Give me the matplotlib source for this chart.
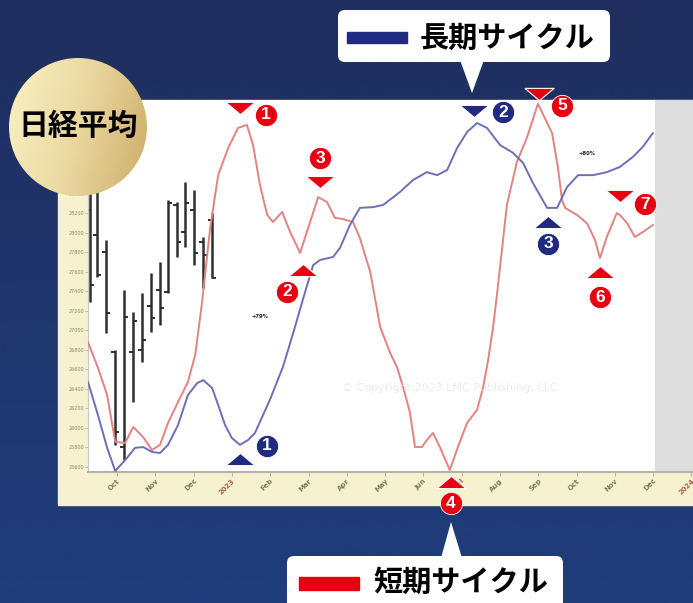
import numpy as np
import matplotlib.pyplot as plt
from matplotlib.colors import LinearSegmentedColormap
from matplotlib.patches import Circle, FancyBboxPatch, Polygon, Rectangle
from matplotlib.path import Path
from matplotlib.transforms import offset_copy

W, H = 693, 603
JP = ['Noto Sans CJK JP', 'DejaVu Sans']

# x軸: 月 (0 = 2022年10月)
month_ticks = list(range(16))
month_labels = ['Oct', 'Nov', 'Dec', '2023', 'Feb', 'Mar', 'Apr', 'May',
                'Jun', 'Jul', 'Aug', 'Sep', 'Oct', 'Nov', 'Dec', '2024']
price_ticks = list(range(25600, 29400, 200))

# 日経平均 週足
bar_x = [-0.70, -0.52, -0.29, -0.05, 0.18, 0.42, 0.65, 0.89, 1.12, 1.33, 1.57, 1.78, 2.01, 2.25, 2.48]
bar_open = [28230, 27980, 27800, 26780, 25800, 26780, 26800, 27250, 27410, 27390, 28280, 28010, 28230, 27900, 28130]
bar_high = [28590, 28440, 27920, 26800, 27410, 27190, 27380, 27590, 27700, 28330, 28310, 28520, 28440, 27960, 28200]
bar_low = [27290, 27550, 26970, 25830, 25670, 26270, 26680, 26980, 27050, 27380, 27750, 27850, 27670, 27430, 27540]
bar_close = [27460, 27570, 27180, 25960, 27140, 27100, 26900, 27130, 27230, 28300, 27900, 28300, 27790, 27770, 27540]

# 短期サイクル
short_x = [-0.76, -0.50, -0.26, -0.05, 0.21, 0.42, 0.68, 0.91, 1.12, 1.33, 1.59, 1.85, 2.04, 2.22, 2.43,
           2.64, 2.90, 3.16, 3.39, 3.55, 3.73, 3.92, 4.07, 4.31, 4.52, 4.78, 4.99, 5.25, 5.48, 5.69,
           5.90, 6.16, 6.34, 6.61, 6.87, 7.13, 7.31, 7.47, 7.65, 7.78, 7.96, 8.09, 8.25, 8.43, 8.69,
           8.90, 9.14, 9.40, 9.56, 9.69, 9.82, 9.92, 10.18, 10.44, 10.70, 10.99, 11.36, 11.51, 11.62, 11.70,
           12.01, 12.27, 12.48, 12.61, 12.79, 13.05, 13.13, 13.32, 13.52, 13.73, 13.99]
short_v = [34.9, 28.0, 20.7, 8.1, 7.8, 12.1, 9.4, 5.9, 7.3, 13.2, 18.8, 24.2, 31.5, 45.7, 65.6,
           79.8, 87.1, 92.5, 93.3, 87.9, 77.2, 69.1, 67.2, 69.9, 64.5, 58.9, 65.6, 73.9, 72.6, 68.3,
           68.0, 67.2, 62.9, 53.8, 39.0, 32.0, 28.2, 22.8, 15.9, 6.7, 6.7, 8.6, 10.5, 6.7, 0.5,
           6.7, 13.2, 16.7, 22.8, 30.1, 39.0, 47.6, 71.8, 83.3, 89.8, 99.0, 91.1, 82.0, 73.1, 71.0,
           69.1, 66.9, 62.4, 57.5, 63.2, 69.6, 69.1, 66.9, 63.2, 64.5, 66.4]

# 長期サイクル
long_x = [-0.76, -0.50, -0.26, -0.05, 0.21, 0.47, 0.68, 0.91, 1.12, 1.33, 1.59, 1.85, 2.09, 2.25, 2.48,
          2.64, 2.82, 3.00, 3.21, 3.42, 3.60, 3.99, 4.33, 4.60, 4.91, 5.12, 5.30, 5.64, 5.82, 6.08,
          6.34, 6.68, 6.95, 7.39, 7.73, 8.09, 8.36, 8.62, 8.88, 9.14, 9.40, 9.66, 10.00, 10.34, 10.60,
          10.86, 11.23, 11.49, 11.75, 12.04, 12.43, 12.79, 13.13, 13.47, 13.73, 13.99]
long_v = [24.2, 15.3, 6.5, 0.3, 3.2, 6.5, 6.7, 5.4, 5.1, 7.3, 12.6, 20.7, 23.9, 24.7, 22.6,
          18.0, 12.6, 9.1, 7.3, 8.6, 10.5, 19.4, 28.2, 37.4, 48.4, 55.6, 57.0, 57.8, 60.2, 66.4,
          71.0, 71.2, 71.8, 75.3, 78.5, 80.6, 79.8, 81.2, 87.1, 91.4, 93.8, 92.5, 87.9, 85.8, 83.1,
          77.7, 71.0, 71.0, 76.6, 79.8, 79.8, 80.6, 82.0, 84.7, 87.4, 91.1]

# 転換点 (index, 番号, 向き)
short_turns = [(18, '1', 'v'), (25, '2', '^'), (27, '3', 'v'), (44, '4', '^'),
               (55, '5', 'v'), (63, '6', '^'), (65, '7', 'v')]
long_turns = [(18, '1', '^'), (40, '2', 'v'), (46, '3', '^')]
# 三角と丸の位置ずれ (px)
short_off = [((-7, 17), (19, 10)), ((3, -17), (-13, -39)), ((2, 15), (2, 39)), ((1, -12), (1, -33)),
             ((1, 10), (24, -2)), ((0, -14), (0, -39)), ((3, 17), (28, 9))]
long_off = [((0, -14), (27, -1)), ((-3, 12), (26, 11)), ((1, -14), (1, -36))]

RED = '#e60012'
NAVY = '#1f2a80'

fig = plt.figure(figsize=(W / 100, H / 100), dpi=100)

# 背景
bg = fig.add_axes([0, 0, 1, 1], zorder=0)
grad = np.linspace(0, 1, 256)[:, None]
bg.imshow(grad, cmap=LinearSegmentedColormap.from_list('n', ['#1f2e5e', '#1f3d7c']),
          extent=[0, W, H, 0], aspect='auto')
bg.add_patch(Rectangle((58, 100), W - 58, 405, color='#f6f2cf'))
bg.set_xlim(0, W)
bg.set_ylim(H, 0)
bg.axis('off')

# チャート
ax = fig.add_axes([88 / W, (H - 472) / H, (W - 88) / W, (472 - 100) / H], zorder=1)
ax.set_facecolor('white')
ax.set_xlim(-0.76, 15.04)
ax.set_ylim(25549, 29358)
ax.axvspan(14.05, 15.2, color='#dedede', lw=0, zorder=0)

ax.vlines(bar_x, bar_low, bar_high, color='#2e2e2e', lw=1.8)
ax.hlines(bar_open, np.array(bar_x) - 0.1, bar_x, color='#2e2e2e', lw=1.4)
ax.hlines(bar_close, bar_x, np.array(bar_x) + 0.1, color='#2e2e2e', lw=1.4)

ax.set_xticks(month_ticks)
ax.set_xticklabels(month_labels, rotation=45, ha='right', rotation_mode='anchor',
                   fontsize=5, fontweight='bold')
for lab in ax.get_xticklabels():
    lab.set_color('#b0604a' if lab.get_text() in ('2023', '2024') else '#7d7d55')
ax.set_yticks(price_ticks)
ax.set_yticklabels([str(p) for p in price_ticks], fontsize=3.5, color='#8c8a6a')
ax.tick_params(axis='x', length=3, width=0.6, color='#b0a898', pad=1)
ax.tick_params(axis='y', length=2, width=0.5, color='#b0a898', pad=1)
for s in ('top', 'right'):
    ax.spines[s].set_visible(False)
ax.spines['bottom'].set_color('#b8b0a8')
ax.spines['bottom'].set_linewidth(1.5)
ax.spines['left'].set_color('#c8c8c8')
ax.spines['left'].set_linewidth(0.8)

ax2 = ax.twinx()
ax2.set_zorder(2)
ax2.set_ylim(0, 100)
ax2.axis('off')
ax2.plot(short_x, short_v, color='#e38282', lw=1.4)
ax2.plot(long_x, long_v, color='#6e6eb6', lw=1.4)

ax2.text(3.73, 41.4, '+79%', fontsize=3.8, fontweight='bold', color='#222222', ha='center')
ax2.text(12.27, 85.2, '+80%', fontsize=3.8, fontweight='bold', color='#222222', ha='center')
ax2.text(8.69, 22.6, '\u00a9 Copyright 2023 LMC Publishing, LLC', fontsize=8, color='#ebebeb',
         ha='center', va='center')

down = Path([(-1, 0.42), (1, 0.42), (0, -0.42), (-1, 0.42)])
up = Path([(-1, -0.42), (1, -0.42), (0, 0.42), (-1, -0.42)])


def turn_marks(xs, vs, turns, offs, color):
    for (i, num, d), (toff, coff) in zip(turns, offs):
        tt = offset_copy(ax2.transData, fig, x=toff[0], y=toff[1], units='dots')
        ax2.plot(xs[i], vs[i], marker=down if d == 'v' else up, ms=21, color=color,
                 mec='white', mew=0.8, transform=tt, clip_on=False, zorder=5)
        ct = offset_copy(ax2.transData, fig, x=coff[0], y=coff[1], units='dots')
        ax2.plot(xs[i], vs[i], marker='o', ms=16, color=color, mec='white', mew=0.6,
                 transform=ct, clip_on=False, zorder=5)
        ax2.text(xs[i], vs[i], num, transform=ct, color='white', fontsize=12.5,
                 fontweight='bold', family='Liberation Sans', ha='center', va='center',
                 zorder=6, clip_on=False)


turn_marks(short_x, short_v, short_turns, short_off, RED)
turn_marks(long_x, long_v, long_turns, long_off, NAVY)

# 装飾
ov = fig.add_axes([0, 0, 1, 1], zorder=3)
ov.set_facecolor('none')
gx, gy = np.meshgrid(np.linspace(0, 1, 200), np.linspace(0, 1, 200))
gold = ov.imshow(gx * 0.8 + gy * 0.2,
                 cmap=LinearSegmentedColormap.from_list('g', ['#fbf2c6', '#ead89f', '#cdab68']),
                 extent=[8, 148, 197, 57], aspect='auto')
gold.set_clip_path(Circle((78, 127), 69, transform=ov.transData))
ov.text(78, 126, '日経平均', fontsize=21.5, fontweight='bold', family=JP, ha='center', va='center')

ov.add_patch(FancyBboxPatch((338, 10), 272, 52, boxstyle='round,pad=0,rounding_size=7',
                            fc='white', ec='none'))
ov.add_patch(Polygon([(460, 60), (484, 60), (472, 93)], closed=True, fc='white', ec='none'))
ov.add_patch(Rectangle((347, 32), 60, 11, color=NAVY))
ov.text(420, 38, '長期サイクル', fontsize=21, fontweight='bold', family=JP, ha='left', va='center')

ov.add_patch(FancyBboxPatch((287, 556), 276, 60, boxstyle='round,pad=0,rounding_size=7',
                            fc='white', ec='none'))
ov.add_patch(Polygon([(441, 558), (462, 558), (451, 522)], closed=True, fc='white', ec='none'))
ov.add_patch(Rectangle((299, 577), 60, 13, color=RED))
ov.text(373, 582, '短期サイクル', fontsize=21, fontweight='bold', family=JP, ha='left', va='center')

ov.set_xlim(0, W)
ov.set_ylim(H, 0)
ov.axis('off')

fig.savefig('out.png', dpi=100)
